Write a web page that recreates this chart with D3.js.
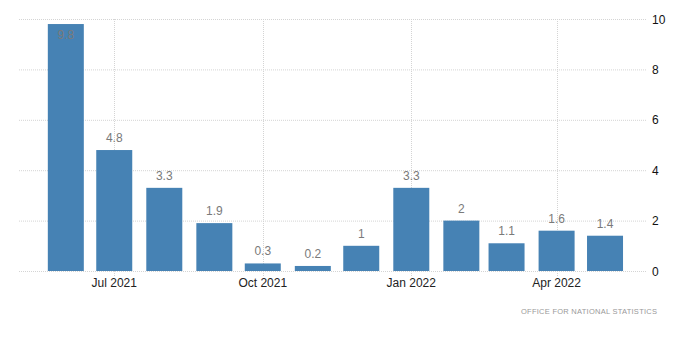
<!DOCTYPE html>
<html><head><meta charset="utf-8">
<script src="https://cdn.jsdelivr.net/npm/d3@7"></script>
<style>body{margin:0;background:#fff}svg{display:block}text{font-family:"Liberation Sans",Arial,sans-serif}</style>
</head><body><svg id="c" width="700" height="360"></svg>
<script>
const months = ["2021-06","2021-07","2021-08","2021-09","2021-10","2021-11","2021-12","2022-01","2022-02","2022-03","2022-04","2022-05"];
const values = [9.8,4.8,3.3,1.9,0.3,0.2,1,3.3,2,1.1,1.6,1.4];
const yTicks = [0,2,4,6,8,10];
const xTickDates = ["2021-07","2021-10","2022-01","2022-04"];
const xTickLabels = ["Jul 2021","Oct 2021","Jan 2022","Apr 2022"];
const source = "OFFICE FOR NATIONAL STATISTICS";

const parse = d3.timeParse("%Y-%m");
const svg = d3.select("#c");
const L=19, R=647, T=19, B=271;
const x = d3.scaleTime().domain([new Date(2021,4,3), new Date(2022,4,27)]).range([L,R]);
const y = d3.scaleLinear().domain([0,10]).range([B,T]);

const g = svg.append("g");
g.selectAll("line.h").data(yTicks).join("line")
 .attr("x1",L).attr("x2",R).attr("y1",d=>y(d)+0.5).attr("y2",d=>y(d)+0.5)
 .attr("stroke","#d4d4d4").attr("stroke-dasharray","1,1");
g.selectAll("line.v").data(xTickDates).join("line")
 .attr("x1",d=>Math.round(x(parse(d)))+0.5).attr("x2",d=>Math.round(x(parse(d)))+0.5)
 .attr("y1",T).attr("y2",B+6)
 .attr("stroke","#d4d4d4").attr("stroke-dasharray","1,1");

const bw = 36;
svg.selectAll("rect.bar").data(values).join("rect")
 .attr("x",(d,i)=>x(parse(months[i]))-bw/2)
 .attr("width",bw)
 .attr("y",d=>y(d))
 .attr("height",d=>B-y(d))
 .attr("fill","#4682b4");

svg.selectAll("text.val").data(values).join("text")
 .attr("x",(d,i)=>x(parse(months[i])))
 .attr("y",d=>{const t=y(d); return t-8<T+4 ? t+15 : t-8;})
 .attr("text-anchor","middle").attr("font-size",12).attr("fill","#7a7a7a")
 .text(d=>d);

svg.selectAll("text.yl").data(yTicks).join("text")
 .attr("x",652).attr("y",d=>y(d)+4.5).attr("font-size",12).attr("fill","#111")
 .text(d=>d);

svg.selectAll("text.xl").data(xTickDates).join("text")
 .attr("x",d=>x(parse(d))).attr("y",287).attr("text-anchor","middle")
 .attr("font-size",12).attr("fill","#222")
 .text((d,i)=>xTickLabels[i]);

svg.append("text").attr("x",521).attr("y",314)
 .attr("font-size",7.5).attr("textLength",136).attr("lengthAdjust","spacing")
 .attr("fill","#999").text(source);
</script></body></html>
